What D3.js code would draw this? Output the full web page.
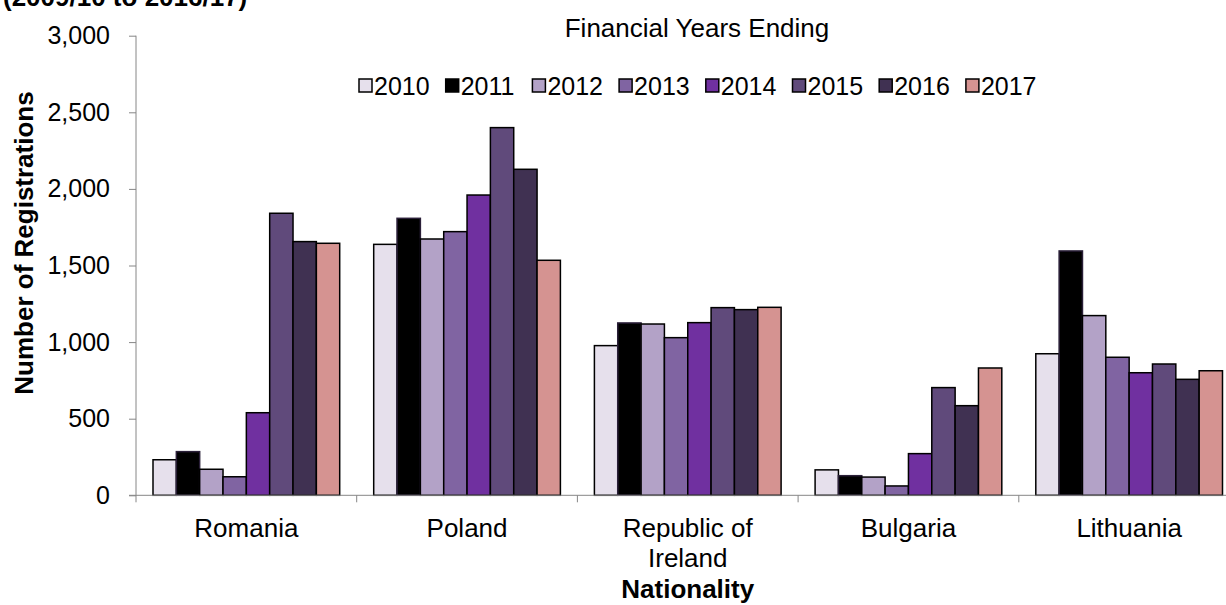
<!DOCTYPE html>
<html>
<head>
<meta charset="utf-8">
<script src="https://cdn.jsdelivr.net/npm/d3@7/dist/d3.min.js"></script>
<style>
  html, body { margin: 0; padding: 0; background: #fff; }
  svg { display: block; }
  text { font-family: Arial, "Liberation Sans", sans-serif; fill: #000; }
</style>
</head>
<body>
<svg id="chart" width="1226" height="605"></svg>
<script>
const categories = ["Romania", "Poland", "Republic of Ireland", "Bulgaria", "Lithuania"];
const categoryLines = [["Romania"], ["Poland"], ["Republic of", "Ireland"], ["Bulgaria"], ["Lithuania"]];
const years = ["2010", "2011", "2012", "2013", "2014", "2015", "2016", "2017"];
const values2010 = [232, 1638, 977, 166, 924];
const values2011 = [285, 1808, 1125, 128, 1595];
const values2012 = [170, 1673, 1118, 119, 1173];
const values2013 = [121, 1721, 1029, 61, 901];
const values2014 = [539, 1960, 1127, 272, 800];
const values2015 = [1841, 2400, 1225, 703, 857];
const values2016 = [1656, 2128, 1212, 585, 757];
const values2017 = [1645, 1534, 1227, 831, 813];
const seriesValues = [values2010, values2011, values2012, values2013, values2014, values2015, values2016, values2017];
const yTicks = [0, 500, 1000, 1500, 2000, 2500, 3000];
const colors = ["#e6e0ec", "#000000", "#b3a2c7", "#8064a2", "#7030a0", "#604a7b", "#403152", "#d59391"];

(function () {
const svg = d3.select("#chart");
const plotLeft = 136, bandW = 220.7, plotTop = 35.7, plotBottom = 495.3;
const plotRight = plotLeft + bandW * categories.length;

const x0 = d3.scaleBand().domain(categories).range([plotLeft, plotRight]).padding(0);
const x1 = d3.scaleBand().domain(years).range([17, bandW - 17]).padding(0);
const y = d3.scaleLinear().domain([0, 3000]).range([plotBottom, plotTop]);

const axisColor = "#868686";

// Bars
const groups = svg.append("g").selectAll("g").data(categories).join("g")
  .attr("transform", d => `translate(${x0(d)},0)`);
groups.selectAll("rect")
  .data((c, ci) => years.map((yr, yi) => ({ yr, yi, v: seriesValues[yi][ci] })))
  .join("rect")
  .attr("x", d => x1(d.yr))
  .attr("width", x1.bandwidth())
  .attr("y", d => y(d.v))
  .attr("height", d => y(0) - y(d.v))
  .attr("fill", d => colors[d.yi])
  .attr("stroke", d => d.yi === 1 ? "#2a1f38" : "#000")
  .attr("stroke-width", 1.5);

// Y axis
const yAxis = d3.axisLeft(y).tickValues(yTicks).tickSize(7).tickPadding(19)
  .tickFormat(d3.format(","));
const yg = svg.append("g").attr("transform", `translate(${plotLeft},0)`).call(yAxis);
yg.select(".domain").attr("stroke", axisColor).attr("d", `M0,${plotTop}V${plotBottom + 7}`);
yg.selectAll(".tick line").attr("stroke", axisColor);
yg.selectAll(".tick text").attr("font-size", 25).attr("font-family", "Arial, 'Liberation Sans', sans-serif").attr("fill", "#000");

// X axis
const xAxis = d3.axisBottom(x0).tickSize(0).tickFormat("");
const xg = svg.append("g").attr("transform", `translate(0,${plotBottom})`).call(xAxis);
xg.select(".domain").attr("stroke", axisColor).attr("d", `M${plotLeft - 7},0H${plotRight}`);
xg.selectAll(".tick").remove();
xg.selectAll(".btick").data(categories.slice(1)).join("line")
  .attr("x1", d => x0(d)).attr("x2", d => x0(d))
  .attr("y1", 0).attr("y2", 7).attr("stroke", axisColor);

// Category labels
categories.forEach((c, i) => {
  const t = svg.append("text").attr("text-anchor", "middle").attr("font-size", 26)
    .attr("x", x0(c) + bandW / 2).attr("y", 537);
  categoryLines[i].forEach((line, li) => {
    t.append("tspan").attr("x", x0(c) + bandW / 2).attr("dy", li === 0 ? 0 : 30).text(line);
  });
});

// Axis titles
svg.append("text").attr("text-anchor", "middle").attr("font-size", 26).attr("font-weight", "bold")
  .attr("x", x0(categories[2]) + bandW / 2).attr("y", 598).text("Nationality");
svg.append("text").attr("text-anchor", "middle").attr("font-size", 26).attr("font-weight", "bold")
  .attr("transform", "translate(33,243) rotate(-90)").text("Number of Registrations");

// Top (cropped) title line
svg.append("text").attr("font-size", 26).attr("font-weight", "bold")
  .attr("x", 3).attr("y", 6).text("(2009/10 to 2016/17)");

// Legend title
svg.append("text").attr("text-anchor", "middle").attr("font-size", 26)
  .attr("x", 697).attr("y", 37).text("Financial Years Ending");

// Legend
const legend = svg.append("g").selectAll("g").data(years).join("g")
  .attr("transform", (d, i) => `translate(${359 + i * 86.7},0)`);
legend.append("rect").attr("x", 0).attr("y", 79).attr("width", 13).attr("height", 13)
  .attr("fill", (d, i) => colors[i]).attr("stroke", "#000").attr("stroke-width", 1.5);
legend.append("text").attr("x", 15).attr("y", 95).attr("font-size", 25).text(d => d);
})();
</script>
</body>
</html>
